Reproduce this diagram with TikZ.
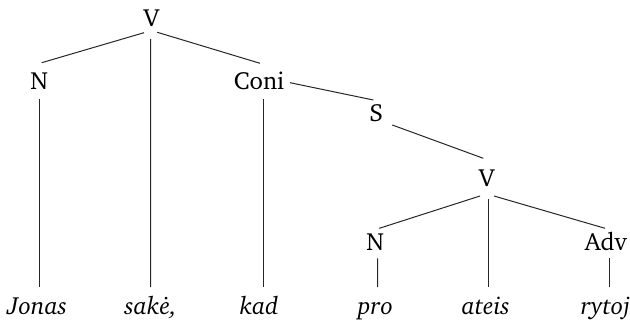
\documentclass[tikz,border=0pt]{standalone}
\usepackage[T1]{fontenc}
\usepackage{charter}
\begin{document}
\begin{tikzpicture}[x=0.5pt,y=-0.5pt,
  lab/.style={inner sep=0pt,anchor=base,font=\fontsize{12.4pt}{14pt}\selectfont},
  word/.style={lab,font=\fontsize{12.4pt}{14pt}\selectfont\itshape},
  edge/.style={draw=black!85,line width=0.5pt}]
\useasboundingbox (0,0) rectangle (630,320);
% labels
\node[lab] (V) at (151.5,26.7) {V};
\node[lab] (N) at (39.3,90) {N};
\node[lab] (Coni) at (259,90) {Coni};
\node[lab] (S) at (376.3,122) {S};
\node[lab] (V2) at (486.7,186.7) {V};
\node[lab] (N2) at (375.3,250) {N};
\node[lab] (Adv) at (605.8,250) {Adv};
\node[word] (w1) at (37.2,314.3) {Jonas};
\node[word] (w2) at (150.8,314.3) {sak\.e,};
\node[word] (w3) at (259,314.3) {kad};
\node[word] (w4) at (375.5,314.3) {pro};
\node[word] (w5) at (485.8,314.3) {ateis};
\node[word] (w6) at (605.5,314.3) {rytoj};
% edges
\draw[edge] ([shift={(-7.5,6)}]V.base) -- ([shift={(2.4,-27.3)}]N.base);
\draw[edge] ([shift={(-0.8,12.3)}]V.base) -- ([shift={(-0.1,-27.3)}]w2.base);
\draw[edge] ([shift={(5.8,5.6)}]V.base) -- ([shift={(1,-26.7)}]Coni.base);
\draw[edge] ([shift={(0,8.7)}]N.base) -- ([shift={(2.1,-27)}]w1.base);
\draw[edge] ([shift={(4.5,9.3)}]Coni.base) -- ([shift={(4.5,-27.3)}]w3.base);
\draw[edge] ([shift={(31,-7.3)}]Coni.base) -- ([shift={(-3,-22)}]S.base);
\draw[edge] ([shift={(16,3)}]S.base) -- ([shift={(-3.4,-28.4)}]V2.base);
\draw[edge] ([shift={(-6.7,9.3)}]V2.base) -- ([shift={(4,-21.7)}]N2.base);
\draw[edge] ([shift={(1.6,12.6)}]V2.base) -- ([shift={(2.5,-27.3)}]w5.base);
\draw[edge] ([shift={(7.3,9.3)}]V2.base) -- ([shift={(-0.8,-21.7)}]Adv.base);
\draw[edge] ([shift={(2.2,8.3)}]N2.base) -- ([shift={(2,-27.3)}]w4.base);
\draw[edge] ([shift={(3.5,8.3)}]Adv.base) -- ([shift={(3.8,-27.3)}]w6.base);
\end{tikzpicture}
\end{document}
